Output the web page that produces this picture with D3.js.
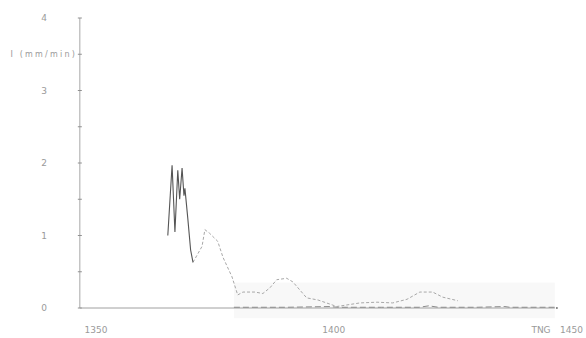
<!DOCTYPE html>
<html>
<head>
<meta charset="utf-8">
<script src="https://cdn.jsdelivr.net/npm/d3@7"></script>
<style>
  html, body { margin: 0; padding: 0; background: #fff; }
  svg { display: block; }
  text { font-family: "DejaVu Sans", sans-serif; fill: #9a9a9a; }
</style>
</head>
<body>
<svg id="chart" width="586" height="338"></svg>
<script>
// Years and intensities (mm/min) of the early, strongly fluctuating record
const peakYears  = [1365.1, 1366.0, 1366.6, 1367.2, 1367.6, 1368.1, 1368.5, 1368.7, 1369.3, 1369.9, 1370.4];
const peakValues = [1.00, 1.97, 1.05, 1.90, 1.50, 1.93, 1.55, 1.65, 1.24, 0.80, 0.63];

// Smoothed continuation of the record
const trendYears  = [1370.4, 1372.3, 1372.9, 1373.9, 1375.6, 1376.7, 1378.6, 1379.8, 1380.9, 1383.4, 1385.1,
                     1386.6, 1388.0, 1390.1, 1391.4, 1394.3, 1396.7, 1399.8, 1400.6, 1405.5, 1409.1,
                     1412.4, 1415.4, 1418.1, 1420.8, 1422.9, 1426.1];
const trendValues = [0.63, 0.85, 1.08, 1.03, 0.92, 0.70, 0.43, 0.18, 0.22, 0.22, 0.20,
                     0.28, 0.39, 0.41, 0.36, 0.14, 0.11, 0.04, 0.02, 0.07, 0.08,
                     0.07, 0.12, 0.22, 0.22, 0.15, 0.10];

// Near-zero baseline series
const baseYears  = [1379.0, 1390.0, 1399.0, 1401.0, 1410.0, 1418.0, 1420.0, 1422.0, 1430.0, 1436.0, 1437.0, 1446.5];
const baseValues = [0.01, 0.01, 0.02, 0.01, 0.01, 0.01, 0.03, 0.01, 0.01, 0.02, 0.01, 0.01];

const xTicks = [1350, 1400, 1450];
const yTicks = [0, 1, 2, 3, 4];
const yMinorTicks = [0, 0.5, 1, 1.5, 2, 2.5, 3, 3.5, 4];
const yLabel = "I (mm/min)";
const xNote = "TNG";

const svg = d3.select("#chart");
const x = d3.scaleLinear().domain([1350, 1450]).range([96, 571.5]);
const y = d3.scaleLinear().domain([0, 4]).range([308, 18]);

const xStart = 1346.6, xEnd = 1446.5;

// faint shaded band behind the lower right part of the plot
svg.append("rect")
  .attr("x", x(1379.0)).attr("y", y(0.35))
  .attr("width", x(xEnd) - x(1379.0))
  .attr("height", y(-0.14) - y(0.35))
  .attr("fill", "#f8f8f8");

// y axis
svg.append("line")
  .attr("x1", x(xStart)).attr("x2", x(xStart))
  .attr("y1", y(0)).attr("y2", y(4))
  .attr("stroke", "#a8a8a8").attr("stroke-width", 1);
svg.selectAll(".ytick").data(yMinorTicks).enter().append("line")
  .attr("x1", x(xStart) - 2).attr("x2", x(xStart) + 2)
  .attr("y1", d => y(d)).attr("y2", d => y(d))
  .attr("stroke", "#909090").attr("stroke-width", 1);
svg.selectAll(".ylab").data(yTicks).enter().append("text")
  .attr("x", 44).attr("y", d => y(d))
  .attr("dy", "0.35em")
  .attr("text-anchor", "middle")
  .attr("font-size", 9)
  .text(d => d);
svg.append("text")
  .attr("x", 77).attr("y", y(3.5))
  .attr("dy", "0.35em")
  .attr("text-anchor", "end")
  .attr("font-size", 8)
  .attr("letter-spacing", 2.2)
  .text(yLabel);

// x axis
svg.append("line")
  .attr("x1", x(xStart)).attr("x2", x(xEnd))
  .attr("y1", y(0)).attr("y2", y(0))
  .attr("stroke", "#a0a0a0").attr("stroke-width", 1);
svg.append("circle")
  .attr("cx", x(xEnd) + 2).attr("cy", y(0)).attr("r", 1)
  .attr("fill", "#777");
svg.selectAll(".xlab").data(xTicks).enter().append("text")
  .attr("x", d => x(d)).attr("y", 333)
  .attr("text-anchor", "middle")
  .attr("font-size", 9)
  .text(d => d);
svg.append("text")
  .attr("x", 541).attr("y", 333)
  .attr("text-anchor", "middle")
  .attr("font-size", 9)
  .text(xNote);

const line = d3.line().x(d => x(d[0])).y(d => y(d[1]));

// baseline series
svg.append("path")
  .datum(d3.zip(baseYears, baseValues))
  .attr("d", line)
  .attr("fill", "none")
  .attr("stroke", "#8c8c8c")
  .attr("stroke-width", 1)
  .attr("stroke-dasharray", "6,3");

// smoothed continuation
svg.append("path")
  .datum(d3.zip(trendYears, trendValues))
  .attr("d", line)
  .attr("fill", "none")
  .attr("stroke", "#a8a8a8")
  .attr("stroke-width", 1)
  .attr("stroke-dasharray", "3,2");

// fluctuating early record
svg.append("path")
  .datum(d3.zip(peakYears, peakValues))
  .attr("d", line)
  .attr("fill", "none")
  .attr("stroke", "#555")
  .attr("stroke-width", 1.1);
</script>
</body>
</html>
